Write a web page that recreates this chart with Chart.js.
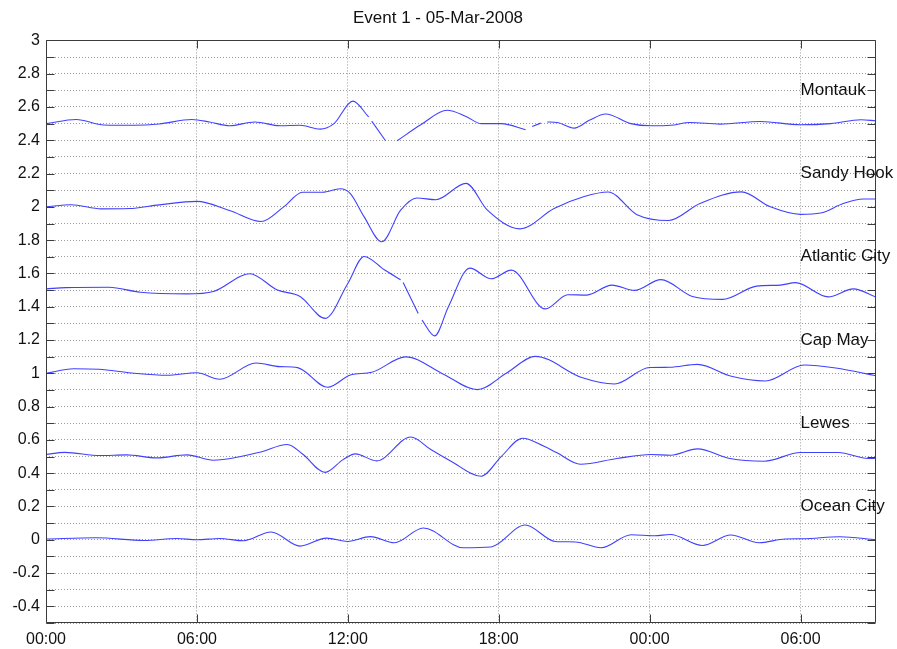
<!DOCTYPE html>
<html><head><meta charset="utf-8">
<script src="https://cdn.jsdelivr.net/npm/chart.js@4.4.0/dist/chart.umd.min.js"></script>
<style>html,body{margin:0;padding:0;background:#fff;overflow:hidden;}</style>
</head><body>
<canvas id="c" width="897" height="649"></canvas>
<script>
const chartTitle = 'Event 1 - 05-Mar-2008';
const stationNames = ['Montauk', 'Sandy Hook', 'Atlantic City', 'Cap May', 'Lewes', 'Ocean City'];
const stationLabelLevels = [2.7, 2.2, 1.7, 1.2, 0.7, 0.2];
const stationLabelHour = 30;
const xTickHours = [0, 6, 12, 18, 24, 30];
const xTickLabels = ['00:00', '06:00', '12:00', '18:00', '00:00', '06:00'];
const yTickValues = [-0.5,-0.4,-0.3,-0.2,-0.1,0,0.1,0.2,0.3,0.4,0.5,0.6,0.7,0.8,0.9,1,1.1,1.2,1.3,1.4,1.5,1.6,1.7,1.8,1.9,2,2.1,2.2,2.3,2.4,2.5,2.6,2.7,2.8,2.9,3];
const yTickLabels = ['', '-0.4', '', '-0.2', '', '0', '', '0.2', '', '0.4', '', '0.6', '', '0.8', '', '1', '', '1.2', '', '1.4', '', '1.6', '', '1.8', '', '2', '', '2.2', '', '2.4', '', '2.6', '', '2.8', '', '3'];

const montaukHours  = [0, 1.2, 2.3, 3.5, 4.5, 5.8, 6.5, 7.3, 8.3, 9.3, 10.1, 10.9, 11.45, 12.2, 12.83, 12.89, 12.95, 13.5, 13.7, 13.96, 14.9, 15.95, 16.7, 17.3, 18.1, 19.07, 19.2, 19.33, 19.67, 19.8, 19.93, 20.33, 21.0, 21.6, 22.25, 23.25, 24.05, 24.84, 25.6, 26.8, 28.4, 30.0, 31.2, 32.4, 33.0];
const montaukLevels = [2.50, 2.525, 2.492, 2.49, 2.498, 2.525, 2.51, 2.487, 2.51, 2.487, 2.49, 2.467, 2.50, 2.635, 2.54, null, 2.515, 2.397, null, 2.397, 2.493, 2.58, 2.543, 2.50, 2.50, 2.463, null, 2.483, 2.503, null, 2.51, 2.507, 2.473, 2.52, 2.558, 2.50, 2.487, 2.49, 2.507, 2.497, 2.513, 2.493, 2.50, 2.523, 2.517];

const sandyHours  = [0, 1.0, 2.2, 3.3, 4.5, 6.0, 7.3, 8.55, 9.45, 10.2, 11.0, 11.7, 12.1, 12.65, 13.35, 14.1, 14.75, 15.5, 16.7, 17.55, 18.85, 20.2, 21.4, 22.35, 23.5, 24.75, 26.0, 27.65, 28.8, 30.0, 30.8, 31.7, 32.5, 33.0];
const sandyLevels = [2.0, 2.013, 1.988, 1.99, 2.012, 2.033, 1.978, 1.912, 2.0, 2.088, 2.088, 2.109, 2.08, 1.94, 1.79, 1.98, 2.053, 2.043, 2.141, 1.98, 1.868, 1.99, 2.062, 2.089, 1.953, 1.918, 2.02, 2.09, 2.0, 1.955, 1.963, 2.02, 2.047, 2.047];

const atlanticHours  = [0, 0.8, 2.5, 3.75, 5.6, 6.66, 8.1, 9.2, 10.1, 11.1, 12.0, 12.65, 13.45, 14.1, 14.15, 14.2, 14.8, 14.87, 14.95, 15.45, 16.0, 16.85, 17.7, 18.5, 19.85, 20.75, 21.5, 22.5, 23.4, 24.45, 25.7, 26.9, 28.25, 29.2, 29.8, 31.1, 32.1, 33.0];
const atlanticLevels = [1.507, 1.515, 1.517, 1.487, 1.477, 1.492, 1.598, 1.50, 1.462, 1.33, 1.54, 1.702, 1.622, 1.562, null, 1.545, 1.36, null, 1.32, 1.225, 1.40, 1.632, 1.568, 1.62, 1.387, 1.472, 1.47, 1.53, 1.498, 1.563, 1.462, 1.444, 1.524, 1.53, 1.545, 1.459, 1.507, 1.458];

const capeHours  = [0, 1.1, 2.1, 3.4, 4.8, 6.0, 6.9, 8.35, 9.3, 10.0, 11.2, 12.1, 12.95, 14.3, 15.8, 17.15, 18.3, 19.45, 21.3, 22.6, 24.0, 24.8, 25.9, 27.25, 28.6, 30.15, 31.4, 33.0];
const capeLevels = [1.0, 1.027, 1.024, 1.002, 0.988, 1.003, 0.964, 1.062, 1.04, 1.034, 0.916, 0.99, 1.006, 1.099, 0.995, 0.902, 1.0, 1.102, 0.975, 0.936, 1.035, 1.036, 1.054, 0.982, 0.954, 1.05, 1.032, 0.985];

const lewesHours  = [0, 0.75, 2.15, 3.2, 4.4, 5.6, 6.66, 8.5, 9.6, 10.2, 11.1, 11.8, 12.3, 13.15, 14.5, 15.3, 16.1, 17.3, 18.1, 18.95, 19.8, 20.3, 21.25, 22.7, 24.05, 24.84, 25.9, 27.2, 28.55, 30.0, 31.5, 32.7, 33.0];
const lewesLevels = [0.512, 0.525, 0.506, 0.51, 0.492, 0.51, 0.478, 0.526, 0.572, 0.515, 0.405, 0.48, 0.516, 0.474, 0.617, 0.542, 0.472, 0.382, 0.5, 0.61, 0.562, 0.524, 0.454, 0.488, 0.512, 0.508, 0.546, 0.488, 0.472, 0.524, 0.524, 0.488, 0.49];

const oceanHours  = [0, 2.0, 3.9, 5.2, 6.0, 6.9, 7.85, 8.95, 10.1, 11.15, 12.0, 12.9, 13.85, 15.0, 16.6, 17.7, 19.05, 20.25, 21.05, 22.07, 23.27, 24.2, 24.82, 26.1, 27.22, 28.35, 29.4, 30.1, 31.55, 33.0];
const oceanLevels = [0.005, 0.012, -0.004, 0.008, 0.0, 0.008, -0.006, 0.047, -0.038, 0.01, -0.01, 0.019, -0.018, 0.071, -0.048, -0.043, 0.089, -0.01, -0.013, -0.048, 0.03, 0.024, 0.032, -0.034, 0.029, -0.018, 0.005, 0.006, 0.018, 0.0];

const seriesList = [
  [montaukHours, montaukLevels],
  [sandyHours, sandyLevels],
  [atlanticHours, atlanticLevels],
  [capeHours, capeLevels],
  [lewesHours, lewesLevels],
  [oceanHours, oceanLevels]
];

const LINE_COLOR = 'rgb(64,64,255)';
const FRAME_COLOR = '#3c3c3c';
const FONT = '"Liberation Sans", Arial, Helvetica, sans-serif';

const datasets = seriesList.map(([hrs, lv], i) => ({
  label: stationNames[i],
  data: hrs.map((h, k) => ({ x: h, y: lv[k] })),
  borderColor: LINE_COLOR,
  borderWidth: 1.1,
  pointRadius: 0,
  fill: false,
  spanGaps: false,
  cubicInterpolationMode: 'monotone'
}));

const framePlugin = {
  id: 'frame',
  afterDraw(chart) {
    const { ctx, chartArea: a, scales: { x, y } } = chart;
    ctx.save();
    ctx.strokeStyle = FRAME_COLOR;
    ctx.lineWidth = 1;
    const L = Math.round(a.left) + 0.5, R = Math.round(a.right) - 0.5;
    const T = Math.round(a.top) + 0.5, B = Math.round(a.bottom) - 0.5;
    ctx.beginPath();
    ctx.rect(L, T, R - L, B - T);
    ctx.stroke();
    const tl = 8;
    ctx.beginPath();
    y.ticks.forEach(t => {
      const py = Math.round(y.getPixelForValue(t.value)) + 0.5;
      ctx.moveTo(L, py); ctx.lineTo(L + tl, py);
      ctx.moveTo(R, py); ctx.lineTo(R - tl, py);
    });
    x.ticks.forEach(t => {
      const px = Math.round(x.getPixelForValue(t.value)) + 0.5;
      ctx.moveTo(px, T); ctx.lineTo(px, T + tl);
      ctx.moveTo(px, B); ctx.lineTo(px, B - tl);
    });
    ctx.stroke();
    ctx.fillStyle = '#111';
    ctx.font = '17px ' + FONT;
    ctx.textAlign = 'left';
    ctx.textBaseline = 'middle';
    stationNames.forEach((n, i) => {
      ctx.fillText(n, x.getPixelForValue(stationLabelHour), y.getPixelForValue(stationLabelLevels[i]));
    });
    ctx.restore();
  }
};

new Chart(document.getElementById('c'), {
  type: 'line',
  data: { datasets },
  plugins: [framePlugin],
  options: {
    responsive: false,
    animation: false,
    devicePixelRatio: 1,
    layout: { padding: { left: 0, right: 21, top: 0, bottom: 0 } },
    plugins: {
      legend: { display: false },
      tooltip: { enabled: false },
      title: {
        display: true,
        text: chartTitle,
        color: '#111',
        font: { family: FONT, size: 17, weight: 'normal', lineHeight: 1.2 },
        padding: { top: 8, bottom: 12 }
      }
    },
    scales: {
      x: {
        type: 'linear',
        min: 0,
        max: 33,
        afterBuildTicks: s => { s.ticks = xTickHours.map(v => ({ value: v })); },
        afterFit: s => { s.height = 26; },
        grid: { color: '#9a9a9a', drawTicks: false, lineWidth: 1 },
        border: { display: false, dash: [1, 2] },
        ticks: {
          autoSkip: false,
          maxRotation: 0,
          padding: 7,
          color: '#111',
          font: { family: FONT, size: 16 },
          callback: (v) => xTickLabels[xTickHours.indexOf(v)]
        }
      },
      y: {
        type: 'linear',
        min: -0.5,
        max: 3,
        afterBuildTicks: s => { s.ticks = yTickValues.map(v => ({ value: v })); },
        afterFit: s => { s.width = 46; },
        grid: { color: '#9a9a9a', drawTicks: false, lineWidth: 1 },
        border: { display: false, dash: [1, 2] },
        ticks: {
          autoSkip: false,
          padding: 6,
          color: '#111',
          font: { family: FONT, size: 16 },
          callback: (v, i) => yTickLabels[i]
        }
      }
    }
  }
});
</script>
</body></html>
